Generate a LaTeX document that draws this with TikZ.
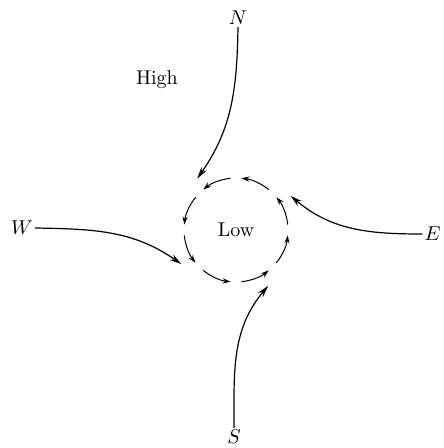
\documentclass[tikz,border=0pt]{standalone}
\usepackage{amsmath,amssymb}
\usepackage{tikz}
\usetikzlibrary{arrows.meta,positioning,calc}

\tikzset{
  wind/.style={line width=0.6pt, -{Stealth[length=6pt,width=3.2pt]}},
  swirl/.style={line width=0.5pt, -{Stealth[length=4pt,width=2.6pt]}},
  dirlabel/.style={inner sep=1pt}
}

\begin{document}
\begin{tikzpicture}[x=0.5pt,y=0.5pt]
\useasboundingbox (0,0) rectangle (443,-448);
% centre of the low
\node[circle, minimum size=64pt, inner sep=0pt] (low) at (236,-230) {Low};
\node at (157,-80) {High};
% compass points
\node[dirlabel] (n) at (238,-18) {$N$};
\node[dirlabel] (s) at (234,-437) {$S$};
\node[dirlabel] (w) at (22,-228) {$W$};
\node[dirlabel, anchor=east] (e) at (443,-234) {$E$};
% inflow
\draw[wind] (n.south) to[out=-91, in=55] (low.127);
\draw[wind] (w.east) to[out=-1, in=145] (low.212);
\draw[wind] (e.west) to[out=180, in=-40] (low.32);
\draw[wind] (s.north) to[out=90, in=-130] (low.-60);
% circulation round the low
\foreach \a in {0,45,...,315}
  \draw[swirl] ($(low.center)+(\a+6:26pt)$) arc (\a+6:\a+39:26pt);
\end{tikzpicture}
\end{document}
